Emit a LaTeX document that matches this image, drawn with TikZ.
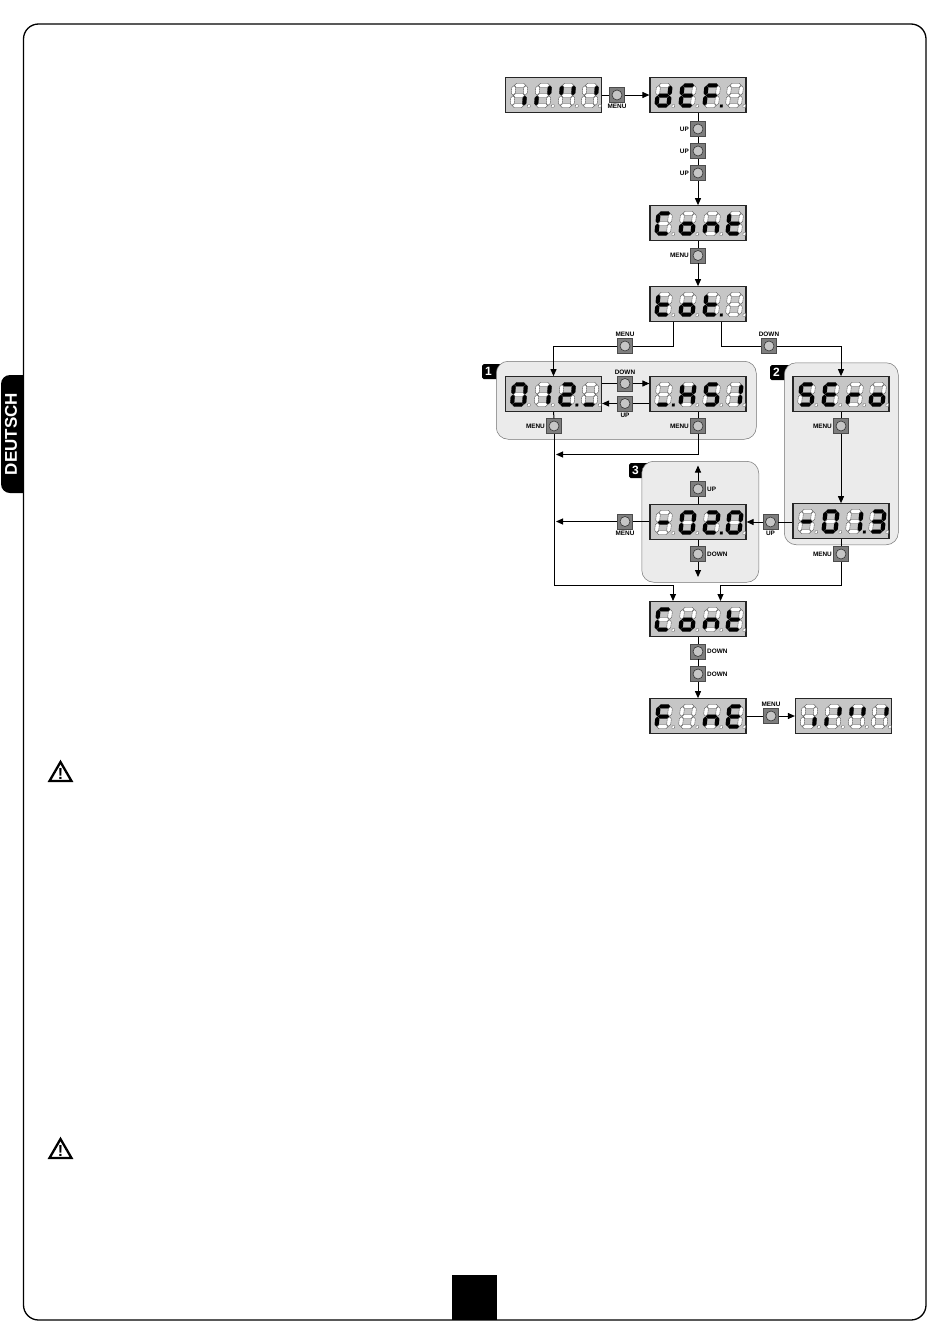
\documentclass[tikz,border=0pt]{standalone}
\usepackage{fontspec}
\setmainfont{Liberation Sans}
\usepackage{xcolor}
\usepackage{tikz}
\usetikzlibrary{arrows.meta, positioning, calc}

\definecolor{lcdgray}{HTML}{C6C6C6}
\definecolor{btngray}{HTML}{7E7E7E}
\definecolor{panelgray}{HTML}{EBEBEB}

% one bar of a digit, in local coordinates: style, then position
\newcommand{\lcdh}[2]{\path[#1] (-5.6,#2) -- (-3.6,#2-2) -- (3.6,#2-2) -- (5.6,#2) -- (3.6,#2+2) -- (-3.6,#2+2) -- cycle;}
\newcommand{\lcdv}[3]{\path[#1] (#2,#3-4.8) -- (#2+2,#3-2.8) -- (#2+2,#3+2.8) -- (#2,#3+4.8) -- (#2-2,#3+2.8) -- (#2-2,#3-2.8) -- cycle;}
\newcommand{\lcdsega}[1]{\lcdh{#1}{-10.2}}
\newcommand{\lcdsegb}[1]{\lcdv{#1}{6}{-5.1}}
\newcommand{\lcdsegc}[1]{\lcdv{#1}{6}{5.1}}
\newcommand{\lcdsegd}[1]{\lcdh{#1}{10.2}}
\newcommand{\lcdsege}[1]{\lcdv{#1}{-6}{5.1}}
\newcommand{\lcdsegf}[1]{\lcdv{#1}{-6}{-5.1}}
\newcommand{\lcdsegg}[1]{\lcdh{#1}{0}}
\newcommand{\lcdsegp}[1]{\path[#1] (9.6,9.2) rectangle (12.2,11.8);}

% display: name, position, then the lit bars of each of the four digits
\newcommand{\lcddigit}[3]{
  \begin{scope}[shift={($(#1.center)+(#2,0.5)$)}, xslant=0.1]
    \foreach \s in {a,b,c,d,e,f,g,p} {\csname lcdseg\s\endcsname{segoff}}
    \foreach \s in {#3} {\csname lcdseg\s\endcsname{segon}}
  \end{scope}
}
\newcommand{\lcd}[6]{
  \node[lcdbox] (#1) at (#2) {};
  \lcddigit{#1}{-34.5}{#3}
  \lcddigit{#1}{-10.5}{#4}
  \lcddigit{#1}{13.5}{#5}
  \lcddigit{#1}{36.5}{#6}
}
% button: name, position, side of the label, label
\newcommand{\btn}[4]{\node[btnbox, label={[btntext]#3:#4}] (#1) at (#2) {};}

\begin{document}
\begin{tikzpicture}[
  x=1pt, y=-1pt,
  lcdbox/.style={draw=black!85, line width=1.2pt, fill=lcdgray, minimum width=96pt, minimum height=34.5pt, inner sep=0pt},
  segon/.style={fill=black},
  segoff/.style={draw=black!70, line width=0.35pt, fill=white},
  btnbox/.style={draw=black!70, line width=0.5pt, fill=btngray, minimum size=15pt, inner sep=0pt,
    path picture={\draw[black!80, line width=0.6pt, fill=lcdgray] (path picture bounding box.center) circle (5);}},
  btntext/.style={font=\fontsize{6.4}{7}\selectfont\bfseries, inner sep=1.2pt},
  wire/.style={line width=1pt},
  wirearrow/.style={wire, -{Stealth[inset=0pt, length=7pt, width=6pt]}},
  panel/.style={draw=black!55, line width=0.5pt, fill=panelgray, rounded corners=12pt, anchor=north west, inner sep=0pt},
  tagbox/.style={fill=black, text=white, rounded corners=1.5pt, anchor=north west, font=\fontsize{12}{12}\selectfont\bfseries,
    text width=20pt, minimum height=15pt, inner xsep=3pt, inner ysep=0pt, align=left},
]
  \useasboundingbox (0,0) rectangle (950,1344);
  \fill[white] (0,0) rectangle (950,1344);

  % page frame and side tab
  \draw[line width=1.3pt, rounded corners=15pt] (23.5,24) rectangle (926,1320);
  \node[fill=black, anchor=north west, minimum width=45pt, minimum height=45pt, inner sep=0pt] (pageno) at (452,1275) {};
  \path[fill=black, rounded corners=9pt] (23.5,375) -- (1,375) -- (1,493) -- (23.5,493);
  \fill[black] (14,375) rectangle (23.5,493);
  \node[text=white, rotate=90, font=\fontsize{17}{17}\selectfont\bfseries, inner sep=0pt] (sidetab) at (11,434) {DEUTSCH};

  % warning signs
  \foreach \y in {771,1148} {
    \draw[line width=2.3pt, line join=miter] (60.5,\y-9) -- (71.5,\y+10) -- (49.5,\y+10) -- cycle;
    \node[font=\fontsize{16}{16}\selectfont\bfseries, inner sep=0pt] (warn\y) at (60.5,\y+3) {!};
  }

  % grey panels, the tags lie under their top left corner
  \node[tagbox] (tag1) at (482,364) {1};
  \node[tagbox] (tag2) at (770,365) {2};
  \node[tagbox] (tag3) at (629,463) {3};
  \node[panel, minimum width=260pt, minimum height=78pt] (panel1) at (496,361) {};
  \node[panel, minimum width=114pt, minimum height=182pt] (panel2) at (784,362.5) {};
  \node[panel, minimum width=117pt, minimum height=121pt] (panel3) at (641.5,461) {};

  % displays
  \lcd{ver}{553.5,95}{c}{b,e}{b,f}{b}
  \lcd{def}{698,95}{b,c,d,e,g}{a,d,e,f,g}{a,e,f,g,p}{}
  \lcd{conta}{698,223}{a,d,e,f}{c,d,e,g}{c,e,g}{d,e,f,g}
  \lcd{tot}{698,304}{d,e,f,g}{c,d,e,g}{d,e,f,g,p}{}
  \lcd{cnt}{553.5,394}{a,b,c,d,e,f}{b,c}{a,b,d,e,g,p}{d}
  \lcd{hrs}{698,394}{d,p}{b,c,e,f,g}{a,c,d,f,g}{b,c}
  \lcd{serv}{841,394}{a,c,d,f,g}{a,d,e,f,g}{e,g}{c,d,e,g}
  \lcd{sera}{841,521}{g}{a,b,c,d,e,f}{b,c,p}{a,b,c,d,g}
  \lcd{serb}{698,522}{g}{a,b,c,d,e,f}{a,b,d,e,g,p}{a,b,c,d,e,f}
  \lcd{contb}{698,619}{a,d,e,f}{c,d,e,g}{c,e,g}{d,e,f,g}
  \lcd{fine}{698,716}{a,e,f,g}{}{c,e,g}{a,d,e,f,g}
  \lcd{verb}{843.5,716}{c}{b,e}{b,f}{b}

  % buttons
  \btn{mver}{617,95}{below}{MENU}
  \btn{upa}{698,129}{left}{UP}
  \btn{upb}{698,151}{left}{UP}
  \btn{upc}{698,173}{left}{UP}
  \btn{mcont}{698,255.5}{left}{MENU}
  \btn{mtot}{625,346}{above}{MENU}
  \btn{dtot}{769,346}{above}{DOWN}
  \btn{dcnt}{625,383.5}{above}{DOWN}
  \btn{ucnt}{625,403.5}{below}{UP}
  \btn{mcnt}{554,426}{left}{MENU}
  \btn{mhrs}{698,426}{left}{MENU}
  \btn{mserv}{841,426}{left}{MENU}
  \btn{usera}{770.5,522}{below}{UP}
  \btn{msera}{841,554}{left}{MENU}
  \btn{userb}{698,489}{right}{UP}
  \btn{dserb}{698,554}{right}{DOWN}
  \btn{mserb}{625,521.5}{below}{MENU}
  \btn{dcona}{698,651.5}{right}{DOWN}
  \btn{dconb}{698,674}{right}{DOWN}
  \btn{mfine}{771,716}{above}{MENU}

  % free ends of the connectors
  \coordinate (totl) at (673,321.5);
  \coordinate (totr) at (721,321.5);
  \coordinate (backa) at (556,454.5);
  \coordinate (backb) at (556,521.5);
  \coordinate (outu) at (698,465.5);
  \coordinate (outd) at (698,577);
  \coordinate (turnl) at (673,585);
  \coordinate (turnr) at (720.5,585);
  \coordinate (inl) at (673,601);
  \coordinate (inr) at (720.5,601);

  % connectors
  \draw[wire] (ver.east) -- (mver.west);
  \draw[wirearrow] (mver.east) -- (def.west);
  \draw[wire] (def.south) -- (upa.north);
  \draw[wire] (upa.south) -- (upb.north);
  \draw[wire] (upb.south) -- (upc.north);
  \draw[wirearrow] (upc.south) -- (conta.north);
  \draw[wire] (conta.south) -- (mcont.north);
  \draw[wirearrow] (mcont.south) -- (tot.north);
  \draw[wire] (totl) |- (mtot.east);
  \draw[wirearrow] (mtot.west) -| (cnt.north);
  \draw[wire] (totr) |- (dtot.west);
  \draw[wirearrow] (dtot.east) -| (serv.north);
  \draw[wire] (cnt.east |- dcnt) -- (dcnt.west);
  \draw[wirearrow] (dcnt.east) -- (hrs.west |- dcnt);
  \draw[wire] (hrs.west |- ucnt) -- (ucnt.east);
  \draw[wirearrow] (ucnt.west) -- (cnt.east |- ucnt);
  \draw[wire] (cnt.south) -- (mcnt.north);
  \draw[wire] (hrs.south) -- (mhrs.north);
  \draw[wirearrow] (mhrs.south) |- (backa);
  \draw[wire] (serv.south) -- (mserv.north);
  \draw[wirearrow] (mserv.south) -- (sera.north);
  \draw[wire] (sera.west |- usera) -- (usera.east);
  \draw[wirearrow] (usera.west) -- (serb.east |- usera);
  \draw[wire] (sera.south) -- (msera.north);
  \draw[wire] (serb.north) -- (userb.south);
  \draw[wirearrow] (userb.north) -- (outu);
  \draw[wire] (serb.south) -- (dserb.north);
  \draw[wirearrow] (dserb.south) -- (outd);
  \draw[wire] (serb.west |- mserb) -- (mserb.east);
  \draw[wirearrow] (mserb.west) -- (backb);
  \draw[wirearrow] (mcnt.south) |- (turnl) -- (inl);
  \draw[wirearrow] (msera.south) |- (turnr) -- (inr);
  \draw[wire] (contb.south) -- (dcona.north);
  \draw[wire] (dcona.south) -- (dconb.north);
  \draw[wirearrow] (dconb.south) -- (fine.north);
  \draw[wire] (fine.east) -- (mfine.west);
  \draw[wirearrow] (mfine.east) -- (verb.west);
\end{tikzpicture}
\end{document}
